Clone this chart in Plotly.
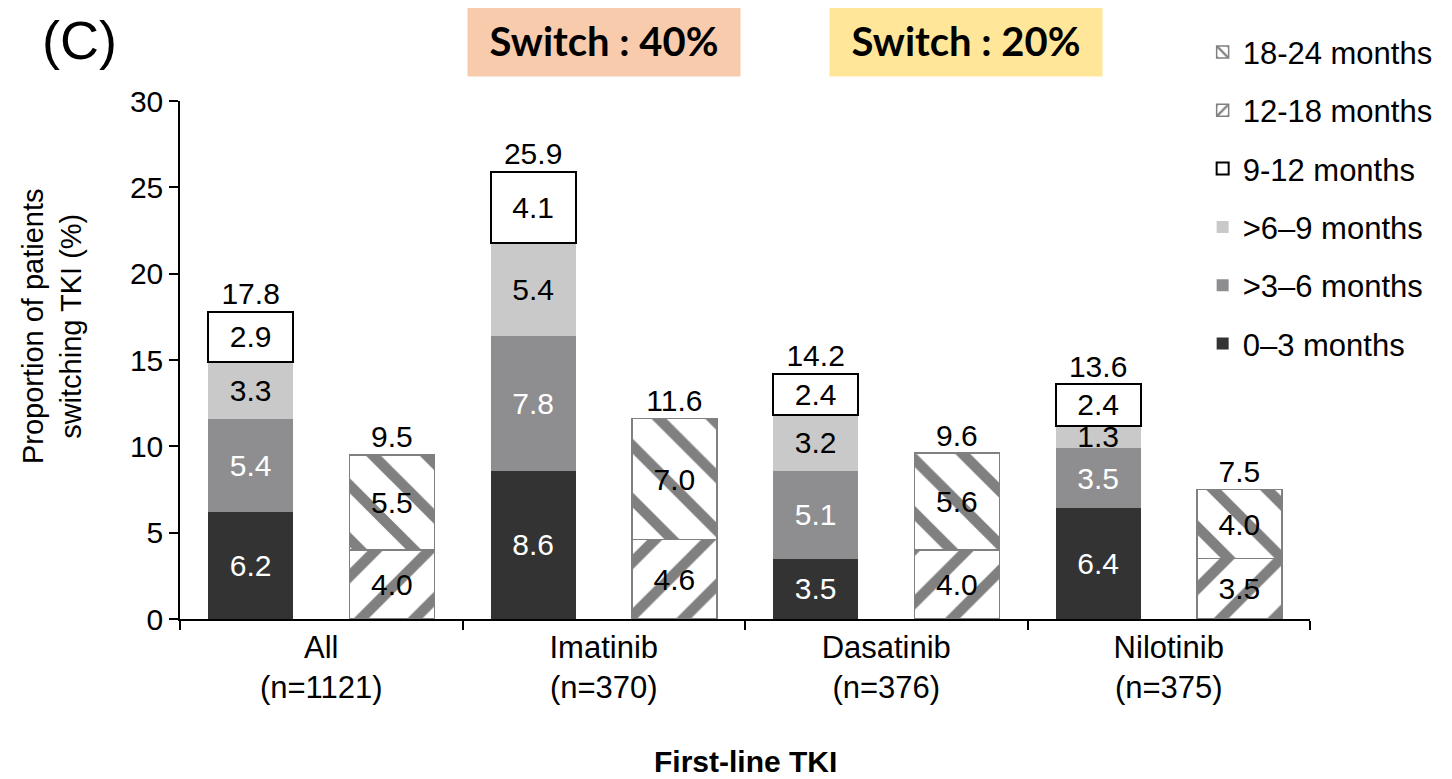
import plotly.graph_objects as go

# --- data ---
categories = ["All<br>(n=1121)", "Imatinib<br>(n=370)", "Dasatinib<br>(n=376)", "Nilotinib<br>(n=375)"]

m0_3 = [6.2, 8.6, 3.5, 6.4]
m3_6 = [5.4, 7.8, 5.1, 3.5]
m6_9 = [3.3, 5.4, 3.2, 1.3]
m9_12 = [2.9, 4.1, 2.4, 2.4]
m12_18 = [4.0, 4.6, 4.0, 3.5]
m18_24 = [5.5, 7.0, 5.6, 4.0]

totals_first = [17.8, 25.9, 14.2, 13.6]   # first switch (0-12 months)
totals_second = [9.5, 11.6, 9.6, 7.5]     # 12-24 months

switch_labels = ["Switch : 40%", "Switch : 20%"]

FONT = "Liberation Sans, Arial, sans-serif"
GREY = "#808080"

idx = list(range(len(categories)))
x_left = [i - 0.25 for i in idx]
x_right = [i + 0.25 for i in idx]

fig = go.Figure()

#solid stacks (left bar of each group); last item = legend rank (1 = top)
solid = [("0–3 months", m0_3, "#333333", "white", 0, "#333333", 6),
         (">3–6 months", m3_6, "#8e8e90", "white", 0, "#8e8e90", 5),
         (">6–9 months", m6_9, "#c9c9c9", "black", 0, "#c9c9c9", 4),
         ("9-12 months", m9_12, "white", "black", 2, "black", 3)]
for name, vals, col, tcol, lw, lcol, rank in solid:
    fig.add_trace(go.Bar(x=x_left, y=vals, name=name, width=0.3, legendgroup=name, legendrank=rank,
                         marker=dict(color=col, line=dict(color=lcol, width=lw)),
                         text=[f"{v:.1f}" for v in vals], textposition="inside",
                         insidetextanchor="middle", textangle=0,
                         textfont=dict(color=tcol, size=30, family=FONT)))

#patterned stacks (right bar of each group)
patterned = [("12-18 months", m12_18, "/", 2), ("18-24 months", m18_24, "\\", 1)]
for name, vals, shape, rank in patterned:
    fig.add_trace(go.Bar(x=x_right, y=vals, name=name, width=0.3, legendgroup=name, legendrank=rank,
                         marker=dict(color="white", line=dict(color=GREY, width=1.5),
                                     pattern=dict(shape=shape, fgcolor=GREY, bgcolor="white",
                                                  fgopacity=1, size=38, solidity=0.28)),
                         text=[f"{v:.1f}" for v in vals], textposition="inside",
                         insidetextanchor="middle", textangle=0,
                         textfont=dict(color="black", size=30, family=FONT)))

#totals above bars
fig.add_trace(go.Scatter(x=x_left + x_right, y=totals_first + totals_second, mode="text",
                         text=[f"{v:.1f}" for v in totals_first + totals_second],
                         textposition="top center", showlegend=False,
                         textfont=dict(size=30, color="black", family=FONT)))

fig.update_layout(
    barmode="stack", width=1452, height=779, autosize=False,
    margin=dict(l=172, r=150, t=93, b=168),
    plot_bgcolor="white", paper_bgcolor="white",
    font=dict(family=FONT, size=30, color="black"),
    uniformtext=dict(minsize=30, mode="show"),
    showlegend=True,
    legend=dict(x=0.905, y=1.146, xanchor="left", yanchor="top", traceorder="grouped",
                tracegroupgap=15, font=dict(size=31, family=FONT), bgcolor="rgba(0,0,0,0)"),
    xaxis=dict(range=[-0.5, 3.5], tickvals=idx, ticktext=categories, ticks="",
               showline=True, linecolor="black", linewidth=1.5, showgrid=False, zeroline=False,
               minor=dict(tick0=-0.5, dtick=1, ticks="outside", ticklen=9, tickcolor="black", tickwidth=1.5),
               tickfont=dict(size=31)),
    yaxis=dict(range=[0, 30], dtick=5, ticks="outside", ticklen=9, tickwidth=1.5, tickcolor="black",
               showline=True, linecolor="black", linewidth=1.5, showgrid=False, zeroline=False,
               tickfont=dict(size=30)),
)

#axis titles and panel letter
fig.add_annotation(text="Proportion of patients<br>switching TKI (%)", textangle=-90,
                   xref="paper", yref="paper", x=-0.113, y=0.566, xanchor="center", yanchor="middle",
                   showarrow=False, font=dict(size=29))
fig.add_annotation(text="<b>First-line TKI</b>", xref="paper", yref="paper", x=0.5, y=-0.276,
                   xanchor="center", yanchor="middle", showarrow=False, font=dict(size=30))
fig.add_annotation(text="(C)", xref="paper", yref="paper", x=-0.124, y=1.118, xanchor="left",
                   yanchor="middle", showarrow=False, font=dict(size=54))

#switch boxes
for lab, xc, bg in zip(switch_labels, [0.375, 0.696], ["#F8CBAD", "#FFE699"]):
    fig.add_annotation(text=f"<b>{lab}</b>", xref="paper", yref="paper", x=xc, y=1.117,
                       xanchor="center", yanchor="middle",
                       showarrow=False, width=262, height=61, borderpad=5, bgcolor=bg,
                       font=dict(size=40, family="Lato, Open Sans, sans-serif", color="black"))

fig.write_html("out.html")
